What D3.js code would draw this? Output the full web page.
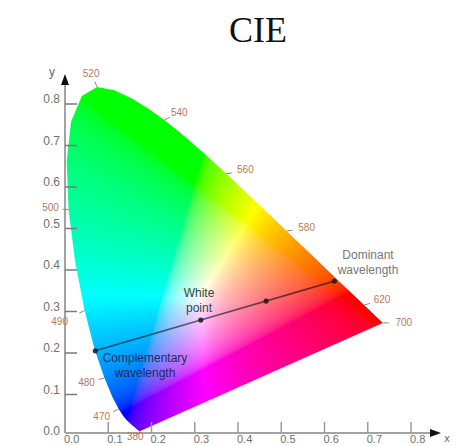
<!DOCTYPE html>
<html>
<head>
<meta charset="utf-8">
<script src="https://cdn.jsdelivr.net/npm/d3@7"></script>
<style>
  html, body { margin: 0; padding: 0; background: #fff; }
  svg { display: block; }
</style>
</head>
<body>
<svg id="chart" width="457" height="446"></svg>
<script>
// CIE 1931 2° spectral locus, chromaticity coordinates every 5 nm
const wavelengths = [380,385,390,395,400,405,410,415,420,425,430,435,440,445,450,455,460,465,470,475,480,485,490,495,500,505,510,515,520,525,530,535,540,545,550,555,560,565,570,575,580,585,590,595,600,605,610,615,620,625,630,635,640,645,650,655,660,665,670,675,680,685,690,695,700];
const locusX = [0.1741,0.1740,0.1738,0.1736,0.1733,0.1730,0.1726,0.1721,0.1714,0.1703,0.1689,0.1669,0.1644,0.1611,0.1566,0.1510,0.1440,0.1355,0.1241,0.1096,0.0913,0.0687,0.0454,0.0235,0.0082,0.0039,0.0139,0.0389,0.0743,0.1142,0.1547,0.1929,0.2296,0.2658,0.3016,0.3373,0.3731,0.4087,0.4441,0.4788,0.5125,0.5448,0.5752,0.6029,0.6270,0.6482,0.6658,0.6801,0.6915,0.7006,0.7079,0.7140,0.7190,0.7230,0.7260,0.7283,0.7300,0.7311,0.7320,0.7327,0.7334,0.7340,0.7344,0.7346,0.7347];
const locusY = [0.0050,0.0050,0.0049,0.0049,0.0048,0.0048,0.0048,0.0048,0.0051,0.0058,0.0069,0.0086,0.0109,0.0138,0.0177,0.0227,0.0297,0.0399,0.0578,0.0868,0.1327,0.2007,0.2950,0.4127,0.5384,0.6548,0.7502,0.8120,0.8338,0.8262,0.8059,0.7816,0.7543,0.7243,0.6923,0.6589,0.6245,0.5896,0.5547,0.5202,0.4866,0.4544,0.4242,0.3965,0.3725,0.3514,0.3340,0.3197,0.3083,0.2993,0.2920,0.2859,0.2809,0.2770,0.2740,0.2717,0.2700,0.2689,0.2680,0.2673,0.2666,0.2660,0.2656,0.2654,0.2653];

// wavelengths marked along the locus
const labeledWavelengths = [380,470,480,490,500,520,540,560,580,620,700];

// axis ticks
const xTicks = [0.0,0.1,0.2,0.3,0.4,0.5,0.6,0.7,0.8];
const yTicks = [0.0,0.1,0.2,0.3,0.4,0.5,0.6,0.7,0.8];
const xTickLabels = ["0.0","0.1","0.2","0.3","0.4","0.5","0.6","0.7","0.8"];
const yTickLabels = ["0.0","0.1","0.2","0.3","0.4","0.5","0.6","0.7","0.8"];

// dominant / complementary wavelength construction
const complementPoint = [0.070, 0.198];
const whitePoint = [0.314, 0.272];
const samplePoint = [0.465, 0.318];
const dominantPoint = [0.623, 0.366];

// label placement (pixel offsets from the locus point)
const labelOffsets = {
  380: [-5, 6], 470: [-17, 8], 480: [-18, 5], 490: [-25, 12], 500: [-18, -1],
  520: [-6, -13], 540: [15, -7], 560: [19, -3], 580: [20, -3], 620: [18, -5], 700: [21, 0]
};

const W = 457, H = 446;
const svg = d3.select("#chart");

const x = d3.scaleLinear().domain([0, 0.8]).range([65, 411]);
const y = d3.scaleLinear().domain([0, 0.8]).range([433, 101]);

const locus = wavelengths.map((w, i) => ({ w, cx: locusX[i], cy: locusY[i] }));
const polygon = locus.map(d => [x(d.cx), y(d.cy)]);

// chromaticity -> display colour (max-normalised sRGB, out-of-gamut clipped)
function chromaColor(cx, cy) {
  if (cy <= 0.0005) cy = 0.0005;
  const X = cx / cy, Y = 1, Z = (1 - cx - cy) / cy;
  let r = 3.2406 * X - 1.5372 * Y - 0.4986 * Z;
  let g = -0.9689 * X + 1.8758 * Y + 0.0415 * Z;
  let b = 0.0557 * X - 0.2040 * Y + 1.0570 * Z;
  r = Math.max(0, r); g = Math.max(0, g); b = Math.max(0, b);
  const m = Math.max(r, g, b) || 1;
  const gam = v => {
    v = v / m;
    v = v <= 0.0031308 ? 12.92 * v : 1.055 * Math.pow(v, 1 / 2.4) - 0.055;
    return Math.round(Math.max(0, Math.min(1, v)) * 255);
  };
  return [gam(r), gam(g), gam(b)];
}

// render the colour field to an offscreen canvas
const x0 = Math.floor(d3.min(polygon, p => p[0])) - 2;
const x1 = Math.ceil(d3.max(polygon, p => p[0])) + 2;
const y0 = Math.floor(d3.min(polygon, p => p[1])) - 2;
const y1 = Math.ceil(d3.max(polygon, p => p[1])) + 2;
const cw = x1 - x0, ch = y1 - y0;
const canvas = document.createElement("canvas");
canvas.width = cw; canvas.height = ch;
const ctx = canvas.getContext("2d");
const img = ctx.createImageData(cw, ch);
for (let j = 0; j < ch; j++) {
  for (let i = 0; i < cw; i++) {
    const cx = x.invert(x0 + i + 0.5), cy = y.invert(y0 + j + 0.5);
    const [r, g, b] = chromaColor(cx, cy);
    const k = (j * cw + i) * 4;
    img.data[k] = r; img.data[k + 1] = g; img.data[k + 2] = b; img.data[k + 3] = 255;
  }
}
ctx.putImageData(img, 0, 0);

svg.append("defs").append("clipPath").attr("id", "locusClip")
  .append("path").attr("d", d3.line()(polygon) + "Z");

svg.append("image")
  .attr("x", x0).attr("y", y0).attr("width", cw).attr("height", ch)
  .attr("href", canvas.toDataURL())
  .attr("clip-path", "url(#locusClip)");

// axes
const axisG = svg.append("g");
axisG.append("line").attr("x1", x(0)).attr("y1", y(0)).attr("x2", x(0)).attr("y2", 82)
  .attr("stroke", "#a3a3a3").attr("stroke-width", 2);
axisG.append("line").attr("x1", x(0)).attr("y1", y(0)).attr("x2", 432).attr("y2", y(0))
  .attr("stroke", "#a3a3a3").attr("stroke-width", 2);
axisG.append("path").attr("d", `M${x(0)},74 L${x(0) - 4},85 L${x(0) + 4},85 Z`).attr("fill", "#111");
axisG.append("path").attr("d", `M441,${y(0)} L430,${y(0) - 4} L430,${y(0) + 4} Z`).attr("fill", "#111");

// tick marks (drawn inward)
axisG.selectAll(".yt").data(yTicks.slice(1)).join("line")
  .attr("x1", x(0)).attr("x2", x(0) + 12)
  .attr("y1", d => y(d) + 3).attr("y2", d => y(d) + 3)
  .attr("stroke", "#7a7a7a").attr("stroke-width", 1.5);
axisG.selectAll(".xt").data(xTicks.slice(1)).join("line")
  .attr("x1", d => x(d)).attr("x2", d => x(d))
  .attr("y1", y(0)).attr("y2", y(0) - 11)
  .attr("stroke", "#9a9a9a").attr("stroke-width", 1.5);

const tickFont = "'Liberation Sans', Arial, sans-serif";
axisG.selectAll(".ytl").data(yTicks).join("text")
  .attr("x", 60).attr("y", d => y(d) - 1)
  .attr("text-anchor", "end").attr("dominant-baseline", "middle")
  .attr("font-family", tickFont).attr("font-size", 12).attr("fill", "#6f6f6f")
  .text((d, i) => yTickLabels[i]);
axisG.selectAll(".xtl").data(xTicks).join("text")
  .attr("x", d => x(d) - 1).attr("y", 442.5)
  .attr("text-anchor", "start")
  .attr("font-family", tickFont).attr("font-size", 11).attr("fill", "#6f6f6f")
  .text((d, i) => xTickLabels[i]);

axisG.append("text").attr("x", 52).attr("y", 76).attr("text-anchor", "middle")
  .attr("font-family", tickFont).attr("font-size", 12).attr("fill", "#666").text("y");
axisG.append("text").attr("x", 447).attr("y", 442).attr("text-anchor", "middle")
  .attr("font-family", tickFont).attr("font-size", 11).attr("fill", "#666").text("x");

// wavelength markers and labels
const marked = locus.filter(d => labeledWavelengths.includes(d.w));
const markG = svg.append("g");
markG.selectAll("line").data(marked).join("line")
  .attr("x1", d => x(d.cx)).attr("y1", d => y(d.cy))
  .attr("x2", d => { const o = labelOffsets[d.w], l = Math.hypot(o[0], o[1]); return x(d.cx) + o[0] / l * 6; })
  .attr("y2", d => { const o = labelOffsets[d.w], l = Math.hypot(o[0], o[1]); return y(d.cy) + o[1] / l * 6; })
  .attr("stroke", "#8b8b70").attr("stroke-width", 1);
markG.selectAll("text").data(marked).join("text")
  .attr("x", d => x(d.cx) + labelOffsets[d.w][0])
  .attr("y", d => y(d.cy) + labelOffsets[d.w][1])
  .attr("text-anchor", "middle").attr("dominant-baseline", "middle")
  .attr("font-family", tickFont).attr("font-size", 10).attr("fill", "#b7785a")
  .text(d => d.w);

// complementary -> white -> dominant construction line
const cons = svg.append("g");
cons.append("line")
  .attr("x1", x(complementPoint[0])).attr("y1", y(complementPoint[1]))
  .attr("x2", x(dominantPoint[0])).attr("y2", y(dominantPoint[1]))
  .attr("stroke", "#000").attr("stroke-opacity", 0.55).attr("stroke-width", 1.6);
cons.selectAll("circle").data([complementPoint, whitePoint, samplePoint, dominantPoint]).join("circle")
  .attr("cx", d => x(d[0])).attr("cy", d => y(d[1])).attr("r", 2.6)
  .attr("fill", "#1a1a1a").attr("fill-opacity", 0.85);

const annFont = "'Liberation Sans', Arial, sans-serif";
function note(lines, cx, cy, color) {
  cons.append("text")
    .attr("x", cx).attr("y", cy)
    .attr("text-anchor", "middle")
    .attr("font-family", annFont).attr("font-size", 12).attr("fill", color)
    .selectAll("tspan").data(lines).join("tspan")
    .attr("x", cx).attr("dy", (d, i) => i === 0 ? 0 : 15)
    .text(d => d);
}
note(["White", "point"], 199, 297, "#2f4a3a");
note(["Complementary", "wavelength"], 145, 362, "#1f2a55");
note(["Dominant", "wavelength"], 368, 259, "#777");

// title
svg.append("text").attr("x", 258).attr("y", 42).attr("text-anchor", "middle")
  .attr("font-family", "'Liberation Serif', 'Times New Roman', serif")
  .attr("font-size", 36).attr("fill", "#111").text("CIE");
</script>
</body>
</html>
